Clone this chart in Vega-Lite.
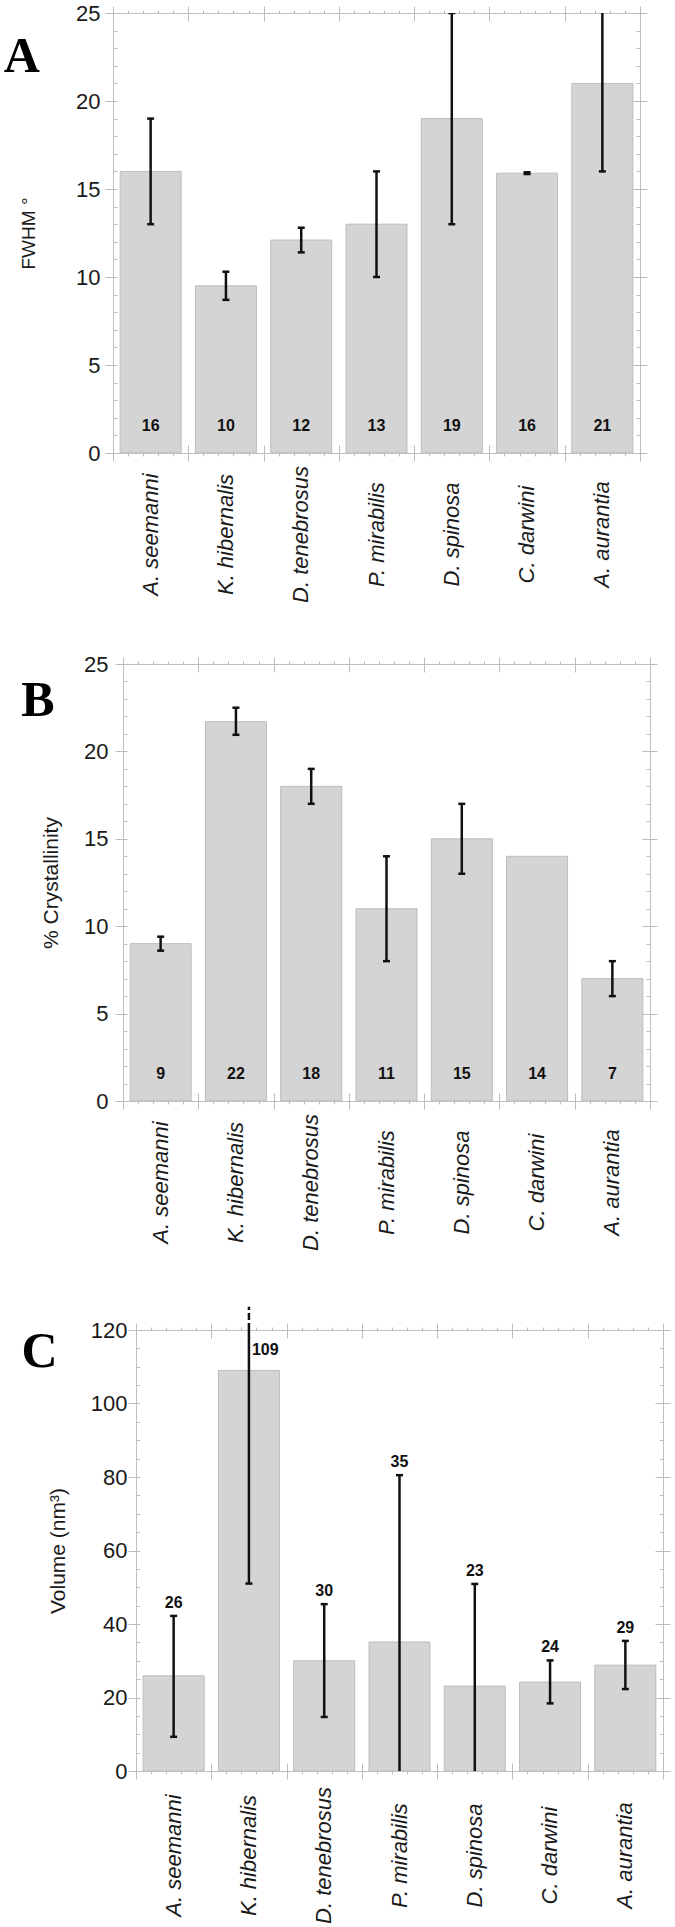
{
  "$schema": "https://vega.github.io/schema/vega-lite/v6.json",
  "background": "white",
  "padding": {"left": 0, "top": 1, "right": 0, "bottom": 0},
  "autosize": {"type": "pad"},
  "config": {
    "view": {"stroke": "#c0c0c0", "strokeWidth": 1},
    "axis": {"domain": false, "grid": false, "tickColor": "#bdbdbd", "tickWidth": 1, "labelFont": "Liberation Sans", "titleFont": "Liberation Sans", "labelFontSize": 22, "titleFontSize": 20, "titleFontWeight": "normal", "labelColor": "#1a1a1a", "titleColor": "#1a1a1a"}
  },
  "datasets": {
    "A": [
      {"sp": "A. seemanni", "v": 16, "lo": 13, "hi": 19},
      {"sp": "K. hibernalis", "v": 9.5, "lo": 8.7, "hi": 10.3},
      {"sp": "D. tenebrosus", "v": 12.1, "lo": 11.4, "hi": 12.8},
      {"sp": "P. mirabilis", "v": 13, "lo": 10, "hi": 16},
      {"sp": "D. spinosa", "v": 19, "lo": 13, "hi": 25},
      {"sp": "C. darwini", "v": 15.9, "lo": 15.85, "hi": 15.95},
      {"sp": "A. aurantia", "v": 21, "lo": 16, "hi": 26}
    ],
    "B": [
      {"sp": "A. seemanni", "v": 9, "lo": 8.6, "hi": 9.4},
      {"sp": "K. hibernalis", "v": 21.7, "lo": 20.95, "hi": 22.5},
      {"sp": "D. tenebrosus", "v": 18, "lo": 17, "hi": 19},
      {"sp": "P. mirabilis", "v": 11, "lo": 8, "hi": 14},
      {"sp": "D. spinosa", "v": 15, "lo": 13, "hi": 17},
      {"sp": "C. darwini", "v": 14},
      {"sp": "A. aurantia", "v": 7, "lo": 6, "hi": 8}
    ],
    "C": [
      {"sp": "A. seemanni", "v": 25.9, "lo": 9.3, "hi": 42.2},
      {"sp": "K. hibernalis", "v": 109, "lo": 51, "hi": 167},
      {"sp": "D. tenebrosus", "v": 30, "lo": 14.7, "hi": 45.4},
      {"sp": "P. mirabilis", "v": 35.1, "lo": -10.3, "hi": 80.5},
      {"sp": "D. spinosa", "v": 23.1, "lo": -4.7, "hi": 50.9},
      {"sp": "C. darwini", "v": 24.2, "lo": 18.4, "hi": 30.1},
      {"sp": "A. aurantia", "v": 28.8, "lo": 22.3, "hi": 35.4}
    ]
  },
  "vconcat": [
    {
      "hconcat": [
        {"width": 113, "height": 639, "data": {"values": []}, "mark": "text", "encoding": {}, "view": {"stroke": null}},
        {
          "width": 527, "height": 440,
          "data": {"name": "A"},
          "layer": [
            {
              "encoding": {"x": {"field": "sp", "type": "nominal", "sort": null, "scale": {"paddingInner": 0.19, "paddingOuter": 0.095}, "axis": {"orient": "bottom", "title": null, "ticks": false, "labelAngle": -90, "labelAlign": "center", "labelBaseline": "middle", "labelPadding": 81, "labelFontStyle": "italic", "labelFontSize": 22, "labelLimit": 0}}},
              "layer": [
                {"mark": {"type": "bar", "fill": "#d4d4d4", "stroke": "#bcbcbc", "strokeWidth": 1}, "encoding": {"y": {"field": "v", "type": "quantitative", "scale": {"domain": [0, 25], "nice": false}, "axis": {"orient": "left", "values": [0, 5, 10, 15, 20, 25], "tickSize": 8, "labelPadding": 5, "title": "FWHM °", "titleFontSize": 19, "titlePadding": 37}}}},
                {"transform": [{"filter": "isValid(datum.lo)"}], "mark": {"type": "rule", "strokeWidth": 2.5, "color": "#111111", "clip": true}, "encoding": {"y": {"field": "lo", "type": "quantitative"}, "y2": {"field": "hi"}}},
                {"transform": [{"filter": "isValid(datum.hi)"}], "mark": {"type": "tick", "size": 7, "thickness": 2.5, "color": "#111111", "opacity": 1, "clip": true}, "encoding": {"y": {"field": "hi", "type": "quantitative"}}},
                {"transform": [{"filter": "isValid(datum.lo)"}], "mark": {"type": "tick", "size": 7, "thickness": 2.5, "color": "#111111", "opacity": 1, "clip": true}, "encoding": {"y": {"field": "lo", "type": "quantitative"}}},
                {"mark": {"type": "text", "font": "Liberation Sans", "fontWeight": "bold", "fontSize": 16, "color": "#111111", "baseline": "middle", "dy": -27}, "encoding": {"y": {"datum": 0, "type": "quantitative"}, "text": {"field": "v", "type": "quantitative", "format": ".0f"}}}
              ]
            },
            {"data": {"values": [{"panel": "A"}]}, "mark": {"type": "text", "font": "Liberation Serif", "fontSize": 50, "fontWeight": "bold", "color": "#000000", "align": "left", "baseline": "alphabetic"}, "encoding": {
              "x": {"datum": -1.45, "type": "quantitative", "scale": {"domain": [0, 7], "nice": false, "zero": false}, "axis": null},
              "y": {"datum": 21.65, "type": "quantitative", "axis": null},
              "text": {"field": "panel", "type": "nominal"}}},
            {"mark": {"type": "point", "opacity": 0}, "encoding": {
              "x": {"datum": 0, "type": "quantitative", "scale": {"domain": [0, 7], "nice": false, "zero": false}, "axis": {"orient": "bottom", "values": [0, 1, 2, 3, 4, 5, 6, 7], "tickSize": 8, "labels": false, "title": null}},
              "y": {"datum": 0, "type": "quantitative", "axis": {"orient": "left", "values": [0, 1, 2, 3, 4, 5, 6, 7, 8, 9, 10, 11, 12, 13, 14, 15, 16, 17, 18, 19, 20, 21, 22, 23, 24, 25], "tickSize": -4, "labels": false, "title": null}}}},
            {"mark": {"type": "point", "opacity": 0}, "encoding": {
              "x": {"datum": 0, "type": "quantitative", "scale": {"domain": [0, 7], "nice": false, "zero": false}, "axis": {"orient": "bottom", "values": [0, 1, 2, 3, 4, 5, 6, 7], "tickSize": -8, "labels": false, "title": null}},
              "y": {"datum": 0, "type": "quantitative", "axis": {"orient": "right", "values": [0, 5, 10, 15, 20, 25], "tickSize": 7, "labels": false, "title": null}}}},
            {"mark": {"type": "point", "opacity": 0}, "encoding": {
              "x": {"datum": 0, "type": "quantitative", "scale": {"domain": [0, 7], "nice": false, "zero": false}, "axis": {"orient": "bottom", "values": [0, 0.2, 0.4, 0.6, 0.8, 1, 1.2, 1.4, 1.6, 1.8, 2, 2.2, 2.4, 2.6, 2.8, 3, 3.2, 3.4, 3.6, 3.8, 4, 4.2, 4.4, 4.6, 4.8, 5, 5.2, 5.4, 5.6, 5.8, 6, 6.2, 6.4, 6.6, 6.8, 7], "tickSize": 3, "labels": false, "title": null}},
              "y": {"datum": 0, "type": "quantitative", "axis": {"orient": "right", "values": [0, 5, 10, 15, 20, 25], "tickSize": -8, "labels": false, "title": null}}}},
            {"mark": {"type": "point", "opacity": 0}, "encoding": {
              "x": {"datum": 0, "type": "quantitative", "scale": {"domain": [0, 7], "nice": false, "zero": false}, "axis": {"orient": "top", "values": [0, 1, 2, 3, 4, 5, 6, 7], "tickSize": 7, "labels": false, "title": null}},
              "y": {"datum": 0, "type": "quantitative", "axis": {"orient": "right", "values": [0, 1, 2, 3, 4, 5, 6, 7, 8, 9, 10, 11, 12, 13, 14, 15, 16, 17, 18, 19, 20, 21, 22, 23, 24, 25], "tickSize": -4, "labels": false, "title": null}}}},
            {"mark": {"type": "point", "opacity": 0}, "encoding": {
              "x": {"datum": 0, "type": "quantitative", "scale": {"domain": [0, 7], "nice": false, "zero": false}, "axis": {"orient": "top", "values": [0, 1, 2, 3, 4, 5, 6, 7], "tickSize": -8, "labels": false, "title": null}},
              "y": {"datum": 0, "type": "quantitative", "axis": null}}},
            {"mark": {"type": "point", "opacity": 0}, "encoding": {
              "x": {"datum": 0, "type": "quantitative", "scale": {"domain": [0, 7], "nice": false, "zero": false}, "axis": {"orient": "top", "values": [0, 0.2, 0.4, 0.6, 0.8, 1, 1.2, 1.4, 1.6, 1.8, 2, 2.2, 2.4, 2.6, 2.8, 3, 3.2, 3.4, 3.6, 3.8, 4, 4.2, 4.4, 4.6, 4.8, 5, 5.2, 5.4, 5.6, 5.8, 6, 6.2, 6.4, 6.6, 6.8, 7], "tickSize": 3, "labels": false, "title": null}},
              "y": {"datum": 0, "type": "quantitative", "axis": null}}}
          ],
          "resolve": {"scale": {"x": "independent"}, "axis": {"x": "independent", "y": "independent"}}
        }
      ],
      "spacing": 0,
      "bounds": "flush"
    },
    {
      "hconcat": [
        {"width": 123, "height": 641, "data": {"values": []}, "mark": "text", "encoding": {}, "view": {"stroke": null}},
        {
          "width": 527, "height": 437,
          "data": {"name": "B"},
          "layer": [
            {
              "encoding": {"x": {"field": "sp", "type": "nominal", "sort": null, "scale": {"paddingInner": 0.19, "paddingOuter": 0.095}, "axis": {"orient": "bottom", "title": null, "ticks": false, "labelAngle": -90, "labelAlign": "center", "labelBaseline": "middle", "labelPadding": 81, "labelFontStyle": "italic", "labelFontSize": 22, "labelLimit": 0}}},
              "layer": [
                {"mark": {"type": "bar", "fill": "#d4d4d4", "stroke": "#bcbcbc", "strokeWidth": 1}, "encoding": {"y": {"field": "v", "type": "quantitative", "scale": {"domain": [0, 25], "nice": false}, "axis": {"orient": "left", "values": [0, 5, 10, 15, 20, 25], "tickSize": 8, "labelPadding": 7, "title": "% Crystallinity", "titleFontSize": 21, "titlePadding": 22}}}},
                {"transform": [{"filter": "isValid(datum.lo)"}], "mark": {"type": "rule", "strokeWidth": 2.5, "color": "#111111", "clip": true}, "encoding": {"y": {"field": "lo", "type": "quantitative"}, "y2": {"field": "hi"}}},
                {"transform": [{"filter": "isValid(datum.hi)"}], "mark": {"type": "tick", "size": 7, "thickness": 2.5, "color": "#111111", "opacity": 1, "clip": true}, "encoding": {"y": {"field": "hi", "type": "quantitative"}}},
                {"transform": [{"filter": "isValid(datum.lo)"}], "mark": {"type": "tick", "size": 7, "thickness": 2.5, "color": "#111111", "opacity": 1, "clip": true}, "encoding": {"y": {"field": "lo", "type": "quantitative"}}},
                {"mark": {"type": "text", "font": "Liberation Sans", "fontWeight": "bold", "fontSize": 16, "color": "#111111", "baseline": "middle", "dy": -27}, "encoding": {"y": {"datum": 0, "type": "quantitative"}, "text": {"field": "v", "type": "quantitative", "format": ".0f"}}}
              ]
            },
            {"data": {"values": [{"panel": "B"}]}, "mark": {"type": "text", "font": "Liberation Serif", "fontSize": 50, "fontWeight": "bold", "color": "#000000", "align": "left", "baseline": "alphabetic"}, "encoding": {
              "x": {"datum": -1.35, "type": "quantitative", "scale": {"domain": [0, 7], "nice": false, "zero": false}, "axis": null},
              "y": {"datum": 22.05, "type": "quantitative", "axis": null},
              "text": {"field": "panel", "type": "nominal"}}},
            {"mark": {"type": "point", "opacity": 0}, "encoding": {
              "x": {"datum": 0, "type": "quantitative", "scale": {"domain": [0, 7], "nice": false, "zero": false}, "axis": {"orient": "bottom", "values": [0, 1, 2, 3, 4, 5, 6, 7], "tickSize": 8, "labels": false, "title": null}},
              "y": {"datum": 0, "type": "quantitative", "axis": {"orient": "left", "values": [0, 1, 2, 3, 4, 5, 6, 7, 8, 9, 10, 11, 12, 13, 14, 15, 16, 17, 18, 19, 20, 21, 22, 23, 24, 25], "tickSize": -4, "labels": false, "title": null}}}},
            {"mark": {"type": "point", "opacity": 0}, "encoding": {
              "x": {"datum": 0, "type": "quantitative", "scale": {"domain": [0, 7], "nice": false, "zero": false}, "axis": {"orient": "bottom", "values": [0, 1, 2, 3, 4, 5, 6, 7], "tickSize": -8, "labels": false, "title": null}},
              "y": {"datum": 0, "type": "quantitative", "axis": {"orient": "right", "values": [0, 5, 10, 15, 20, 25], "tickSize": 7, "labels": false, "title": null}}}},
            {"mark": {"type": "point", "opacity": 0}, "encoding": {
              "x": {"datum": 0, "type": "quantitative", "scale": {"domain": [0, 7], "nice": false, "zero": false}, "axis": {"orient": "bottom", "values": [0, 0.2, 0.4, 0.6, 0.8, 1, 1.2, 1.4, 1.6, 1.8, 2, 2.2, 2.4, 2.6, 2.8, 3, 3.2, 3.4, 3.6, 3.8, 4, 4.2, 4.4, 4.6, 4.8, 5, 5.2, 5.4, 5.6, 5.8, 6, 6.2, 6.4, 6.6, 6.8, 7], "tickSize": 3, "labels": false, "title": null}},
              "y": {"datum": 0, "type": "quantitative", "axis": {"orient": "right", "values": [0, 5, 10, 15, 20, 25], "tickSize": -8, "labels": false, "title": null}}}},
            {"mark": {"type": "point", "opacity": 0}, "encoding": {
              "x": {"datum": 0, "type": "quantitative", "scale": {"domain": [0, 7], "nice": false, "zero": false}, "axis": {"orient": "top", "values": [0, 1, 2, 3, 4, 5, 6, 7], "tickSize": 7, "labels": false, "title": null}},
              "y": {"datum": 0, "type": "quantitative", "axis": {"orient": "right", "values": [0, 1, 2, 3, 4, 5, 6, 7, 8, 9, 10, 11, 12, 13, 14, 15, 16, 17, 18, 19, 20, 21, 22, 23, 24, 25], "tickSize": -4, "labels": false, "title": null}}}},
            {"mark": {"type": "point", "opacity": 0}, "encoding": {
              "x": {"datum": 0, "type": "quantitative", "scale": {"domain": [0, 7], "nice": false, "zero": false}, "axis": {"orient": "top", "values": [0, 1, 2, 3, 4, 5, 6, 7], "tickSize": -8, "labels": false, "title": null}},
              "y": {"datum": 0, "type": "quantitative", "axis": null}}},
            {"mark": {"type": "point", "opacity": 0}, "encoding": {
              "x": {"datum": 0, "type": "quantitative", "scale": {"domain": [0, 7], "nice": false, "zero": false}, "axis": {"orient": "top", "values": [0, 0.2, 0.4, 0.6, 0.8, 1, 1.2, 1.4, 1.6, 1.8, 2, 2.2, 2.4, 2.6, 2.8, 3, 3.2, 3.4, 3.6, 3.8, 4, 4.2, 4.4, 4.6, 4.8, 5, 5.2, 5.4, 5.6, 5.8, 6, 6.2, 6.4, 6.6, 6.8, 7], "tickSize": 3, "labels": false, "title": null}},
              "y": {"datum": 0, "type": "quantitative", "axis": null}}}
          ],
          "resolve": {"scale": {"x": "independent"}, "axis": {"x": "independent", "y": "independent"}}
        }
      ],
      "spacing": 0,
      "bounds": "flush"
    },
    {
      "hconcat": [
        {"width": 136, "height": 1, "data": {"values": []}, "mark": "text", "encoding": {}, "view": {"stroke": null}},
        {
          "width": 527, "height": 441,
          "data": {"name": "C"},
          "layer": [
            {
              "encoding": {"x": {"field": "sp", "type": "nominal", "sort": null, "scale": {"paddingInner": 0.19, "paddingOuter": 0.095}, "axis": {"orient": "bottom", "title": null, "ticks": false, "labelAngle": -90, "labelAlign": "center", "labelBaseline": "middle", "labelPadding": 84, "labelFontStyle": "italic", "labelFontSize": 22, "labelLimit": 0}}},
              "layer": [
                {"mark": {"type": "bar", "fill": "#d4d4d4", "stroke": "#bcbcbc", "strokeWidth": 1}, "encoding": {"y": {"field": "v", "type": "quantitative", "scale": {"domain": [0, 120], "nice": false}, "axis": {"orient": "left", "values": [0, 20, 40, 60, 80, 100, 120], "tickSize": 8, "labelPadding": 1, "title": "Volume (nm³)", "titleFontSize": 21, "titlePadding": 22}}}},
                {"transform": [{"filter": "isValid(datum.lo)"}], "mark": {"type": "rule", "strokeWidth": 2.5, "color": "#111111", "clip": true}, "encoding": {"y": {"field": "lo", "type": "quantitative"}, "y2": {"field": "hi"}}},
                {"transform": [{"filter": "datum.sp === 'K. hibernalis'"}], "mark": {"type": "rule", "strokeWidth": 2.5, "color": "#111111", "strokeDash": [7, 3]}, "encoding": {"y": {"datum": 120, "type": "quantitative"}, "y2": {"datum": 126.3}}},
                {"transform": [{"filter": "isValid(datum.hi)"}], "mark": {"type": "tick", "size": 7, "thickness": 2.5, "color": "#111111", "opacity": 1, "clip": true}, "encoding": {"y": {"field": "hi", "type": "quantitative"}}},
                {"transform": [{"filter": "isValid(datum.lo)"}], "mark": {"type": "tick", "size": 7, "thickness": 2.5, "color": "#111111", "opacity": 1, "clip": true}, "encoding": {"y": {"field": "lo", "type": "quantitative"}}},
                {"transform": [{"filter": "datum.sp !== 'K. hibernalis'"}], "mark": {"type": "text", "font": "Liberation Sans", "fontWeight": "bold", "fontSize": 16, "color": "#111111", "baseline": "middle", "dy": -13}, "encoding": {"y": {"field": "hi", "type": "quantitative"}, "text": {"field": "v", "type": "quantitative", "format": ".0f"}}},
                {"transform": [{"filter": "datum.sp === 'K. hibernalis'"}], "mark": {"type": "text", "font": "Liberation Sans", "fontWeight": "bold", "fontSize": 16, "color": "#111111", "baseline": "middle", "align": "left", "dx": 3, "dy": -20}, "encoding": {"y": {"field": "v", "type": "quantitative"}, "text": {"field": "v", "type": "quantitative", "format": ".0f"}}}
              ]
            },
            {"data": {"values": [{"panel": "C"}]}, "mark": {"type": "text", "font": "Liberation Serif", "fontSize": 50, "fontWeight": "bold", "color": "#000000", "align": "left", "baseline": "alphabetic"}, "encoding": {
              "x": {"datum": -1.52, "type": "quantitative", "scale": {"domain": [0, 7], "nice": false, "zero": false}, "axis": null},
              "y": {"datum": 109.9, "type": "quantitative", "axis": null},
              "text": {"field": "panel", "type": "nominal"}}},
            {"mark": {"type": "point", "opacity": 0}, "encoding": {
              "x": {"datum": 0, "type": "quantitative", "scale": {"domain": [0, 7], "nice": false, "zero": false}, "axis": {"orient": "bottom", "values": [0, 1, 2, 3, 4, 5, 6, 7], "tickSize": 8, "labels": false, "title": null}},
              "y": {"datum": 0, "type": "quantitative", "axis": {"orient": "left", "values": [0, 5, 10, 15, 20, 25, 30, 35, 40, 45, 50, 55, 60, 65, 70, 75, 80, 85, 90, 95, 100, 105, 110, 115, 120], "tickSize": -4, "labels": false, "title": null}}}},
            {"mark": {"type": "point", "opacity": 0}, "encoding": {
              "x": {"datum": 0, "type": "quantitative", "scale": {"domain": [0, 7], "nice": false, "zero": false}, "axis": {"orient": "bottom", "values": [0, 1, 2, 3, 4, 5, 6, 7], "tickSize": -8, "labels": false, "title": null}},
              "y": {"datum": 0, "type": "quantitative", "axis": {"orient": "right", "values": [0, 20, 40, 60, 80, 100, 120], "tickSize": 7, "labels": false, "title": null}}}},
            {"mark": {"type": "point", "opacity": 0}, "encoding": {
              "x": {"datum": 0, "type": "quantitative", "scale": {"domain": [0, 7], "nice": false, "zero": false}, "axis": {"orient": "bottom", "values": [0, 0.2, 0.4, 0.6, 0.8, 1, 1.2, 1.4, 1.6, 1.8, 2, 2.2, 2.4, 2.6, 2.8, 3, 3.2, 3.4, 3.6, 3.8, 4, 4.2, 4.4, 4.6, 4.8, 5, 5.2, 5.4, 5.6, 5.8, 6, 6.2, 6.4, 6.6, 6.8, 7], "tickSize": 3, "labels": false, "title": null}},
              "y": {"datum": 0, "type": "quantitative", "axis": {"orient": "right", "values": [0, 20, 40, 60, 80, 100, 120], "tickSize": -8, "labels": false, "title": null}}}},
            {"mark": {"type": "point", "opacity": 0}, "encoding": {
              "x": {"datum": 0, "type": "quantitative", "scale": {"domain": [0, 7], "nice": false, "zero": false}, "axis": {"orient": "top", "values": [0, 1, 2, 3, 4, 5, 6, 7], "tickSize": 7, "labels": false, "title": null}},
              "y": {"datum": 0, "type": "quantitative", "axis": {"orient": "right", "values": [0, 5, 10, 15, 20, 25, 30, 35, 40, 45, 50, 55, 60, 65, 70, 75, 80, 85, 90, 95, 100, 105, 110, 115, 120], "tickSize": -4, "labels": false, "title": null}}}},
            {"mark": {"type": "point", "opacity": 0}, "encoding": {
              "x": {"datum": 0, "type": "quantitative", "scale": {"domain": [0, 7], "nice": false, "zero": false}, "axis": {"orient": "top", "values": [0, 1, 2, 3, 4, 5, 6, 7], "tickSize": -8, "labels": false, "title": null}},
              "y": {"datum": 0, "type": "quantitative", "axis": null}}},
            {"mark": {"type": "point", "opacity": 0}, "encoding": {
              "x": {"datum": 0, "type": "quantitative", "scale": {"domain": [0, 7], "nice": false, "zero": false}, "axis": {"orient": "top", "values": [0, 0.2, 0.4, 0.6, 0.8, 1, 1.2, 1.4, 1.6, 1.8, 2, 2.2, 2.4, 2.6, 2.8, 3, 3.2, 3.4, 3.6, 3.8, 4, 4.2, 4.4, 4.6, 4.8, 5, 5.2, 5.4, 5.6, 5.8, 6, 6.2, 6.4, 6.6, 6.8, 7], "tickSize": 3, "labels": false, "title": null}},
              "y": {"datum": 0, "type": "quantitative", "axis": null}}}
          ],
          "resolve": {"scale": {"x": "independent"}, "axis": {"x": "independent", "y": "independent"}}
        }
      ],
      "spacing": 0,
      "bounds": "flush"
    }
  ],
  "spacing": 0,
  "align": "each"
}
